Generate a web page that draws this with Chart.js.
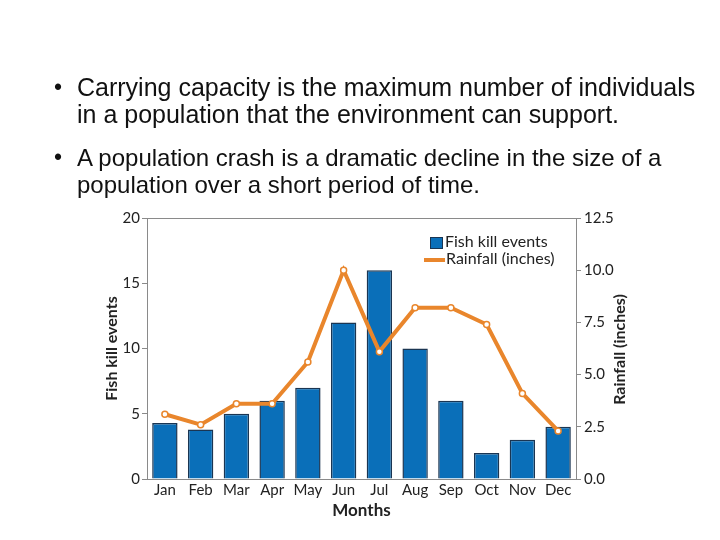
<!DOCTYPE html>
<html>
<head>
<meta charset="utf-8">
<script src="https://cdn.jsdelivr.net/npm/chart.js@4.4.0/dist/chart.umd.min.js"></script>
<style>
    html, body { margin: 0; padding: 0; background: #fff; }
    #wrap { position: relative; width: 720px; height: 540px; overflow: hidden; }
    #chart { position: absolute; left: 0; top: 0; }
    .bullet {
        position: absolute; left: 77px; width: 640px; white-space: nowrap;
        font-family: "Liberation Sans", Arial, sans-serif;
        font-size: 25px; line-height: 27px; color: #111;
    }
    .bullet:before {
        content: "\2022"; position: absolute; left: -23px; top: 0; font-size: 23px;
    }
</style>
</head>
<body>
<div id="wrap">
    <canvas id="chart" width="720" height="540"></canvas>
    <div class="bullet" style="top: 74px;">Carrying capacity is the maximum number of individuals<br>in a population that the environment can support.</div>
    <div class="bullet" style="top: 144px; font-size: 24px;">A population crash is a dramatic decline in the size of a<br>population over a short period of time.</div>
</div>
<script>
// Données
const months = ['Jan', 'Feb', 'Mar', 'Apr', 'May', 'Jun', 'Jul', 'Aug', 'Sep', 'Oct', 'Nov', 'Dec'];
const fishKills = [4.3, 3.8, 5, 6, 7, 12, 16, 10, 6, 2, 3, 4];
const rainfall = [3.1, 2.6, 3.6, 3.6, 5.6, 10, 6.1, 8.2, 8.2, 7.4, 4.1, 2.3];
const leftTicks = [0, 5, 10, 15, 20];
const rightTicks = [0, 2.5, 5, 7.5, 10, 12.5];

const fontFamily = 'Lato, "Open Sans", sans-serif';
const blue = '#0a6fb9';
const orange = '#e9862c';

// Cadre gris, titre de l'axe de droite et légende dessinée à l'intérieur
const framePlugin = {
    id: 'frame',
    beforeDatasetsDraw(chart) {
        const a = chart.chartArea;
        const ctx = chart.ctx;
        ctx.save();
        ctx.strokeStyle = '#8a8a8a';
        ctx.lineWidth = 1;
        ctx.strokeRect(a.left + 0.5, a.top + 0.5, a.right - a.left, a.bottom - a.top);
        ctx.restore();
    },
    afterDraw(chart) {
        const a = chart.chartArea;
        const ctx = chart.ctx;
        ctx.save();
        // titre de l'axe de droite, lu de bas en haut
        ctx.translate(a.right + 44, (a.top + a.bottom) / 2 + 1);
        ctx.rotate(-Math.PI / 2);
        ctx.fillStyle = '#222';
        ctx.font = 'bold 16px ' + fontFamily;
        ctx.textAlign = 'center';
        ctx.textBaseline = 'middle';
        ctx.fillText('Rainfall (inches)', 0, 0);
        ctx.restore();

        ctx.save();
        const x = a.right - 146;
        ctx.fillStyle = blue;
        ctx.strokeStyle = '#1a3552';
        ctx.lineWidth = 1;
        ctx.fillRect(x, a.top + 19, 12, 11);
        ctx.strokeRect(x + 0.5, a.top + 19.5, 12, 11);
        ctx.strokeStyle = orange;
        ctx.lineWidth = 4;
        ctx.beginPath();
        ctx.moveTo(x - 6, a.top + 42);
        ctx.lineTo(x + 15, a.top + 42);
        ctx.stroke();
        ctx.fillStyle = '#222';
        ctx.font = '16px ' + fontFamily;
        ctx.textBaseline = 'middle';
        ctx.fillText('Fish kill events', x + 15, a.top + 24);
        ctx.fillText('Rainfall (inches)', x + 16, a.top + 41);
        ctx.restore();
    }
};

new Chart(document.getElementById('chart'), {
    type: 'bar',
    data: {
        labels: months,
        datasets: [
            {
                type: 'line',
                label: 'Rainfall (inches)',
                data: rainfall,
                yAxisID: 'y2',
                borderColor: orange,
                borderWidth: 4,
                pointRadius: 3,
                pointBorderWidth: 1.5,
                pointBackgroundColor: '#fff',
                pointBorderColor: orange,
                tension: 0,
                order: 0
            },
            {
                label: 'Fish kill events',
                data: fishKills,
                yAxisID: 'y',
                backgroundColor: blue,
                borderColor: '#1a3552',
                borderWidth: 1.5,
                barPercentage: 0.71,
                categoryPercentage: 1,
                order: 1
            }
        ]
    },
    options: {
        responsive: false,
        animation: false,
        layout: {
            padding: { left: 102, right: 88, top: 218, bottom: 19 }
        },
        plugins: {
            legend: { display: false },
            tooltip: { enabled: false }
        },
        scales: {
            x: {
                grid: { display: false, drawTicks: false },
                border: { display: false },
                ticks: {
                    color: '#222',
                    padding: 2,
                    font: { family: fontFamily, size: 15 }
                },
                title: {
                    display: true,
                    text: 'Months',
                    color: '#222',
                    padding: { top: 2, bottom: 0 },
                    font: { family: fontFamily, size: 17, weight: 'bold' }
                },
                afterFit(scale) { scale.height = 42; }
            },
            y: {
                position: 'left',
                min: 0,
                max: 20,
                afterBuildTicks(scale) { scale.ticks = leftTicks.map(v => ({ value: v })); },
                grid: { drawOnChartArea: false, tickLength: 5, color: '#8a8a8a' },
                border: { display: false },
                ticks: {
                    color: '#222',
                    padding: 2,
                    font: { family: fontFamily, size: 15 }
                },
                title: {
                    display: true,
                    text: 'Fish kill events',
                    color: '#222',
                    padding: 0,
                    font: { family: fontFamily, size: 16, weight: 'bold' }
                },
                afterFit(scale) { scale.width = 45; }
            },
            y2: {
                position: 'right',
                min: 0,
                max: 12.5,
                afterBuildTicks(scale) { scale.ticks = rightTicks.map(v => ({ value: v })); },
                grid: { drawOnChartArea: false, tickLength: 5, color: '#8a8a8a' },
                border: { display: false },
                ticks: {
                    color: '#222',
                    padding: 3,
                    font: { family: fontFamily, size: 15 },
                    callback: v => v.toFixed(1)
                },
                afterFit(scale) { scale.width = 56; }
            }
        }
    },
    plugins: [framePlugin]
});
</script>
</body>
</html>
